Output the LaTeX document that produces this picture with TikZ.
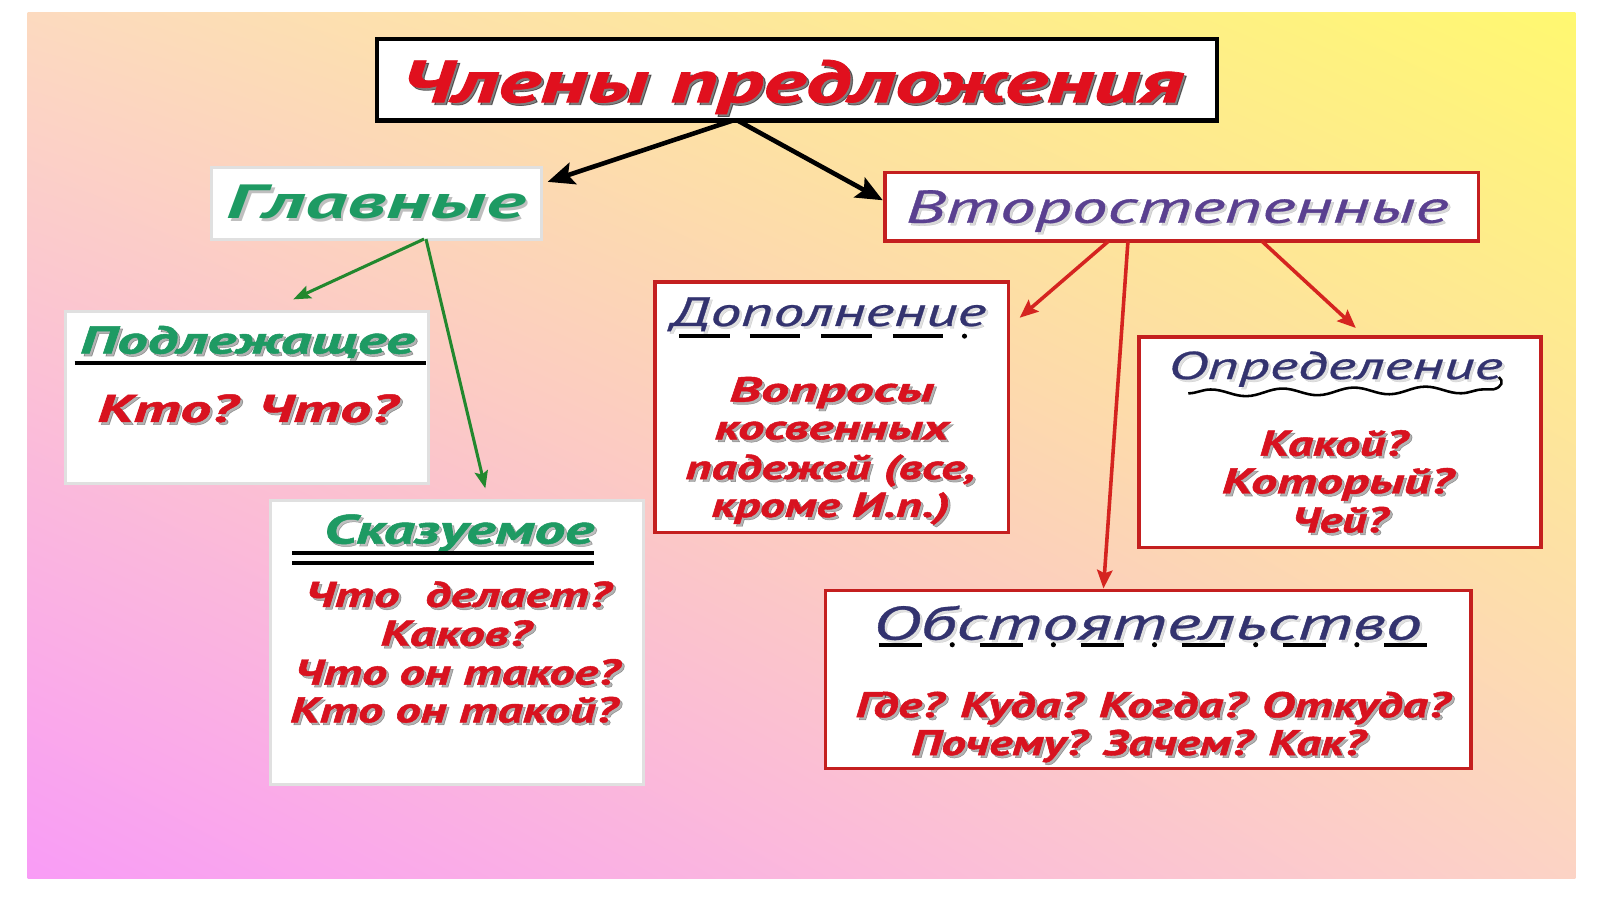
\documentclass[tikz,border=0pt]{standalone}
\usepackage{fontspec}
\setmainfont{PT Sans}
\newfontfamily\ptb[FakeBold=1.2]{PT Sans}
\newfontfamily\ptm[FakeBold=0.6]{PT Sans}
\usetikzlibrary{arrows.meta,calc,decorations.pathmorphing,shadings}
\definecolor{tred}{HTML}{E0101E}
\definecolor{qred}{HTML}{D8121F}
\definecolor{grn}{HTML}{1E9A63}
\definecolor{purp}{HTML}{5A4090}
\definecolor{navy}{HTML}{33336F}
\definecolor{bred}{HTML}{C41F1F}
\definecolor{agrn}{HTML}{22882E}
\definecolor{ared}{HTML}{D52420}
\definecolor{bgUL}{HTML}{FCDABF}
\definecolor{bgUR}{HTML}{FFF870}
\definecolor{bgLL}{HTML}{F99CF6}
\definecolor{bgLR}{HTML}{FCD3C5}
\tikzset{
  txt/.style={anchor=base, inner sep=0pt, outer sep=0pt},
  boxbase/.style={anchor=north west, inner sep=0pt, outer sep=0pt, fill=white},
  softbox/.style={boxbase, draw=black!12, line width=3pt},
  redbox/.style={boxbase, draw=bred, line width=3.5pt},
  titlebox/.style={boxbase, draw=black, line width=4.5pt},
  blackarr/.style={line width=4.5pt, -{Stealth[length=26pt,width=22pt,inset=5pt]}},
  greenarr/.style={draw=agrn, line width=3pt, -{Stealth[length=17pt,width=13pt,inset=3pt]}, agrn},
  redarr/.style={draw=ared, line width=3.5pt, -{Stealth[length=18pt,width=15pt,inset=3pt]}, ared},
  uline/.style={line width=4pt},
}
% name, x, y(baseline), width, size, colour, font, shadow opacity, text
\newcommand\stx[9]{%
  \node[txt, text=black, opacity=#8] (#1-s) at ($(#2,#3)+(2.5,2.5)$)
    {\resizebox{#4pt}{\height}{#7\fontsize{#5}{#5}\selectfont #9}};
  \node[txt, text=#6] (#1) at (#2,#3)
    {\resizebox{#4pt}{\height}{#7\fontsize{#5}{#5}\selectfont #9}};}
\begin{document}
\begin{tikzpicture}[x=1pt,y=-1pt]
\useasboundingbox (0,0) rectangle (1566,880);
\fill[white] (0,0) rectangle (1566,880);
\shade[upper left=bgUL, upper right=bgUR, lower left=bgLL, lower right=bgLR] (27,12) rectangle (1542,860);

% boxes
\node[titlebox, minimum width=822pt, minimum height=80pt] (title) at (369,38) {};
\node[softbox, minimum width=323pt, minimum height=70pt] (glav) at (207,164) {};
\node[redbox, minimum width=581pt, minimum height=67pt] (vtor) at (866,169) {};
\node[softbox, minimum width=355pt, minimum height=168pt] (podl) at (64,305) {};
\node[softbox, minimum width=365pt, minimum height=278pt] (skaz) at (265,490) {};
\node[redbox, minimum width=346pt, minimum height=245pt] (dop) at (641,276) {};
\node[redbox, minimum width=393pt, minimum height=206pt] (opr) at (1115,330) {};
\node[redbox, minimum width=632pt, minimum height=174pt] (obst) at (808,578) {};

% connectors
\draw[blackarr] ($(title.south west)!0.4234!(title.south east)$) -- ($(glav.north east)+(6,14)$);
\draw[blackarr] ($(title.south west)!0.4294!(title.south east)$) -- ($(vtor.north west)+(-2,27)$);
\draw[greenarr] ($(glav.south west)!0.644!(glav.south east)$) -- ($(podl.north west)+(223,-12)$);
\draw[greenarr] ($(glav.south west)!0.650!(glav.south east)$) -- ($(skaz.north west)+(210,-12)$);
\draw[redarr] ($(vtor.south west)!0.3769!(vtor.south east)$) -- ($(dop.north east)+(11,35)$);
\draw[redarr] ($(vtor.south west)!0.4096!(vtor.south east)$) -- ($(obst.north west)+(272,-2)$);
\draw[redarr] ($(vtor.south west)!0.6351!(vtor.south east)$) -- ($(opr.north west)+(212,-9)$);

% texts
\stx{ttl}{775}{100}{766}{58}{tred}{\ptb\bfseries\itshape}{0.5}{Члены предложения}
\stx{tglav}{368}{214}{292}{47}{grn}{\bfseries\itshape}{0.25}{Главные}
\stx{tvtor}{1152}{218}{531}{45}{purp}{\ptm\itshape}{0.15}{Второстепенные}

\stx{tpodl}{242}{346}{327}{38}{grn}{\ptb\bfseries\itshape}{0.3}{Подлежащее}
\draw[uline] (73,355) -- (417,355);
\stx{tkto}{242}{413}{293}{38}{qred}{\ptb\bfseries\itshape}{0.3}{Кто? Что?}

\stx{tskaz}{449}{532}{264}{40}{grn}{\ptb\bfseries\itshape}{0.25}{Сказуемое}
\draw[uline] (286,541) -- (581,541);
\draw[uline] (286,551) -- (581,551);
\stx{ts1}{448}{594}{299}{35}{qred}{\ptb\bfseries\itshape}{0.3}{Что~~делает?}
\stx{ts2}{446}{632}{147}{35}{qred}{\ptb\bfseries\itshape}{0.3}{Каков?}
\stx{ts3}{447}{670}{318}{35}{qred}{\ptb\bfseries\itshape}{0.3}{Что он такое?}
\stx{ts4}{444}{707}{320}{35}{qred}{\ptb\bfseries\itshape}{0.3}{Кто он такой?}

\stx{tdop}{811}{319}{308}{40}{navy}{\ptm\itshape}{0.12}{Дополнение}
\foreach \a in {665,734,804,874} \draw[uline] (\a,329) -- ++(49,0);
\fill (944,329) circle (2.5);
\stx{td1}{814}{393}{200}{34}{qred}{\ptb\bfseries\itshape}{0.3}{Вопросы}
\stx{td2}{814}{430}{229}{34}{qred}{\ptb\bfseries\itshape}{0.3}{косвенных}
\stx{td3}{813}{469}{284}{34}{qred}{\ptb\bfseries\itshape}{0.3}{падежей (все,}
\stx{td4}{813}{506}{233}{34}{qred}{\ptb\bfseries\itshape}{0.3}{кроме И.п.)}

\stx{topr}{1307}{371}{327}{38}{navy}{\ptm\itshape}{0.12}{Определение}
\draw[line width=2.5pt, decorate, decoration={snake, amplitude=3.5pt, segment length=70pt}] (1163,385) -- (1462,381);
\draw[line width=2.5pt] (1462,381) .. controls (1470,379) and (1472,373) .. (1467,369);
\stx{to1}{1305}{446}{144}{35}{qred}{\ptb\bfseries\itshape}{0.3}{Какой?}
\stx{to2}{1309}{483}{226}{35}{qred}{\ptb\bfseries\itshape}{0.3}{Который?}
\stx{to3}{1311}{521}{94}{35}{qred}{\ptb\bfseries\itshape}{0.3}{Чей?}

\stx{tobst}{1123}{626}{537}{46}{navy}{\ptm\itshape}{0.12}{Обстоятельство}
\foreach \a in {860,959,1058,1157,1256,1355} \draw[uline] (\a,631) -- ++(42,0);
\foreach \a in {932,1031,1130,1229,1328} \fill (\a,631) circle (2.5);
\stx{tb1}{1128}{702}{581}{35}{qred}{\ptb\bfseries\itshape}{0.3}{Где? Куда? Когда? Откуда?}
\stx{tb2}{1114}{739}{444}{35}{qred}{\ptb\bfseries\itshape}{0.3}{Почему? Зачем? Как?}
\end{tikzpicture}
\end{document}
